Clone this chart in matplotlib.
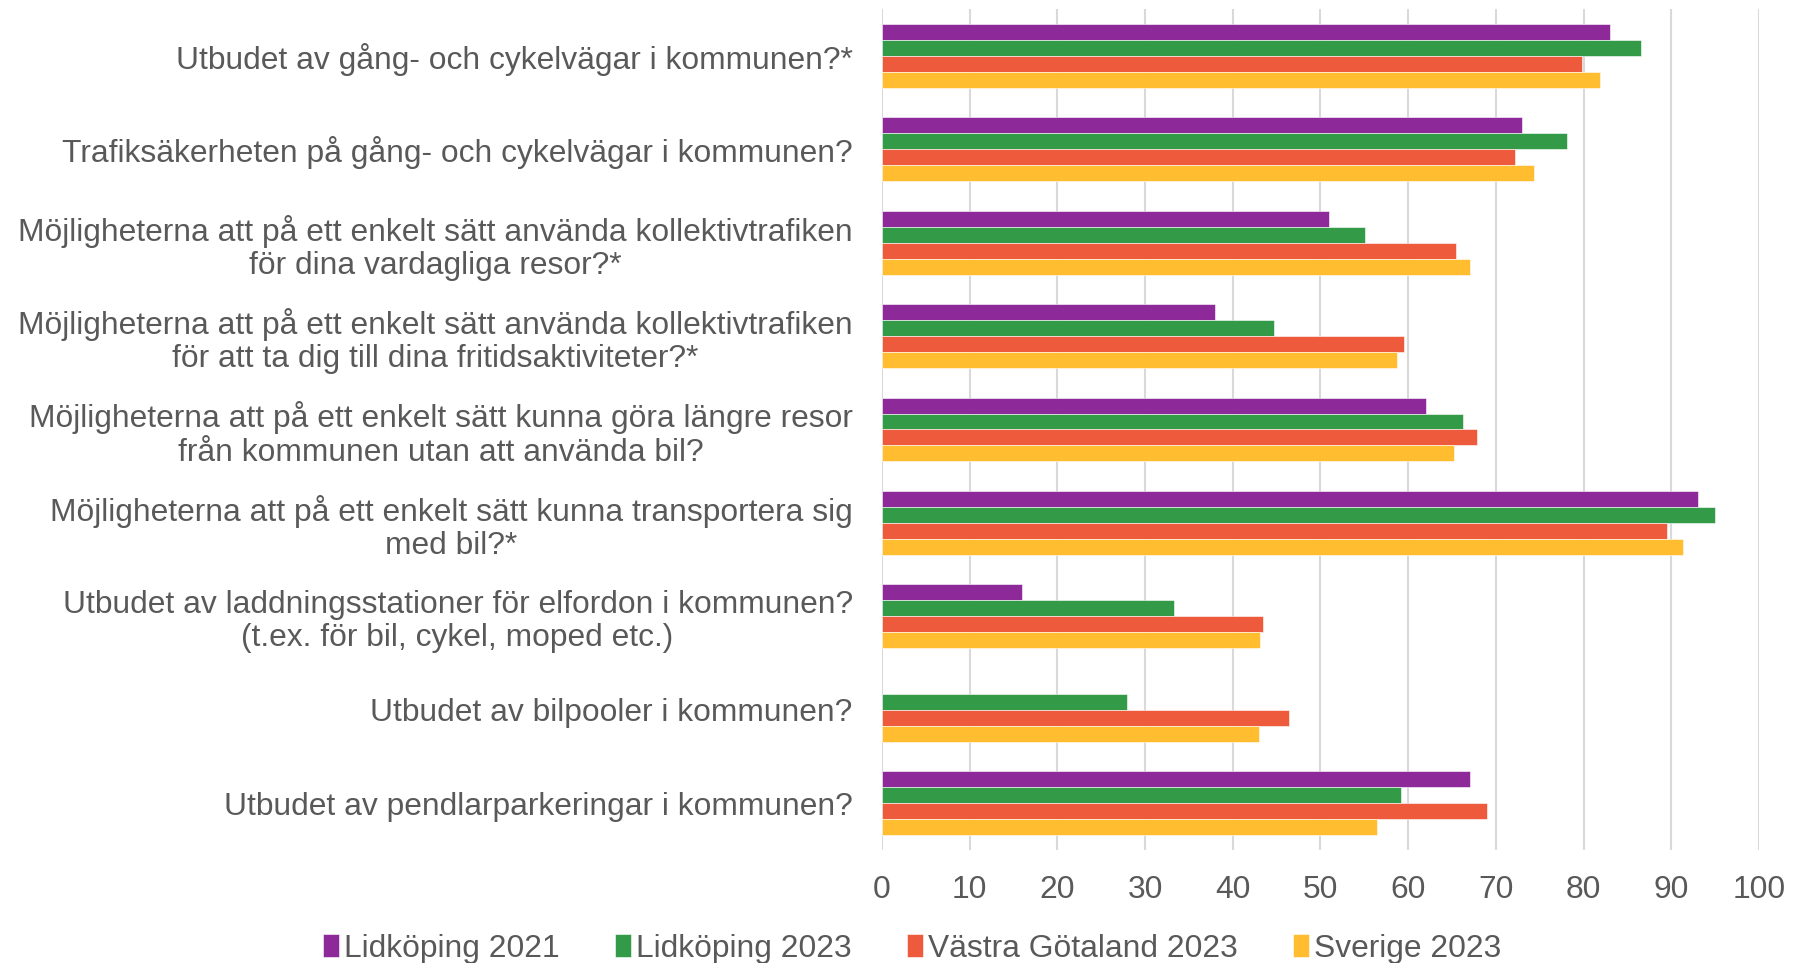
import numpy as np
import matplotlib.pyplot as plt
import matplotlib.transforms as mtransforms

plt.rcParams['font.family'] = ['Liberation Sans', 'DejaVu Sans']

categories = [
    "Utbudet av gång- och cykelvägar i kommunen?*",
    "Trafiksäkerheten på gång- och cykelvägar i kommunen?",
    "Möjligheterna att på ett enkelt sätt använda kollektivtrafiken\nför dina vardagliga resor?*",
    "Möjligheterna att på ett enkelt sätt använda kollektivtrafiken\nför att ta dig till dina fritidsaktiviteter?*",
    "Möjligheterna att på ett enkelt sätt kunna göra längre resor\nfrån kommunen utan att använda bil?",
    "Möjligheterna att på ett enkelt sätt kunna transportera sig\nmed bil?*",
    "Utbudet av laddningsstationer för elfordon i kommunen?\n(t.ex. för bil, cykel, moped etc.)",
    "Utbudet av bilpooler i kommunen?",
    "Utbudet av pendlarparkeringar i kommunen?",
]
series_names = ["Lidköping 2021", "Lidköping 2023", "Västra Götaland 2023", "Sverige 2023"]
lidkoping_2021 = [83.0, 73.0, 51.0, 38.0, 62.0, 93.1, 16.0, np.nan, 67.0]
lidkoping_2023 = [86.5, 78.1, 55.1, 44.7, 66.2, 95.0, 33.3, 27.9, 59.2]
vastra_gotaland_2023 = [79.8, 72.2, 65.4, 59.5, 67.9, 89.5, 43.4, 46.4, 69.0]
sverige_2023 = [81.9, 74.4, 67.0, 58.7, 65.2, 91.3, 43.1, 43.0, 56.5]
colors = ["#8E299A", "#339B48", "#EE5B3C", "#FFBD2F"]
xticks = [0, 10, 20, 30, 40, 50, 60, 70, 80, 90, 100]

fig = plt.figure(figsize=(17.96, 9.63), dpi=100)
ax = fig.add_axes([0.491, 0.1173, 0.9794 - 0.491, 0.9907 - 0.1173])

y = np.arange(len(categories))
h = 0.171
all_series = [lidkoping_2021, lidkoping_2023, vastra_gotaland_2023, sverige_2023]
for k, (vals, name, c) in enumerate(zip(all_series, series_names, colors)):
    ax.barh(y + (k - 1.5) * h, vals, height=h, color=c, label=name,
            edgecolor='white', linewidth=0.4, zorder=3)

ax.set_xlim(0, 100)
ax.set_ylim(len(categories) - 0.5, -0.5)
ax.set_xticks(xticks)
ax.set_yticks(y)
ax.set_yticklabels(categories)
shift = mtransforms.ScaledTranslation(0, 2.5 / 100, fig.dpi_scale_trans)
for lab in ax.get_yticklabels():
    lab.set_multialignment('center')
    lab.set_linespacing(1.15)
    lab.set_transform(lab.get_transform() + shift)
ax.tick_params(axis='both', length=0, labelsize=22.9, labelcolor='#595959')
ax.tick_params(axis='y', pad=21)
ax.tick_params(axis='x', pad=18)
ax.grid(axis='x', color='#D9D9D9', linewidth=1.5, zorder=0)
for s in ax.spines.values():
    s.set_visible(False)

leg = fig.legend(loc='center', bbox_to_anchor=(0.508, 0.015), ncol=4, frameon=False,
                 fontsize=22.9, handlelength=0.5, handleheight=0.7, handletextpad=0.15,
                 columnspacing=1.75, labelcolor='#595959')

fig.savefig('out.png', dpi=100)
